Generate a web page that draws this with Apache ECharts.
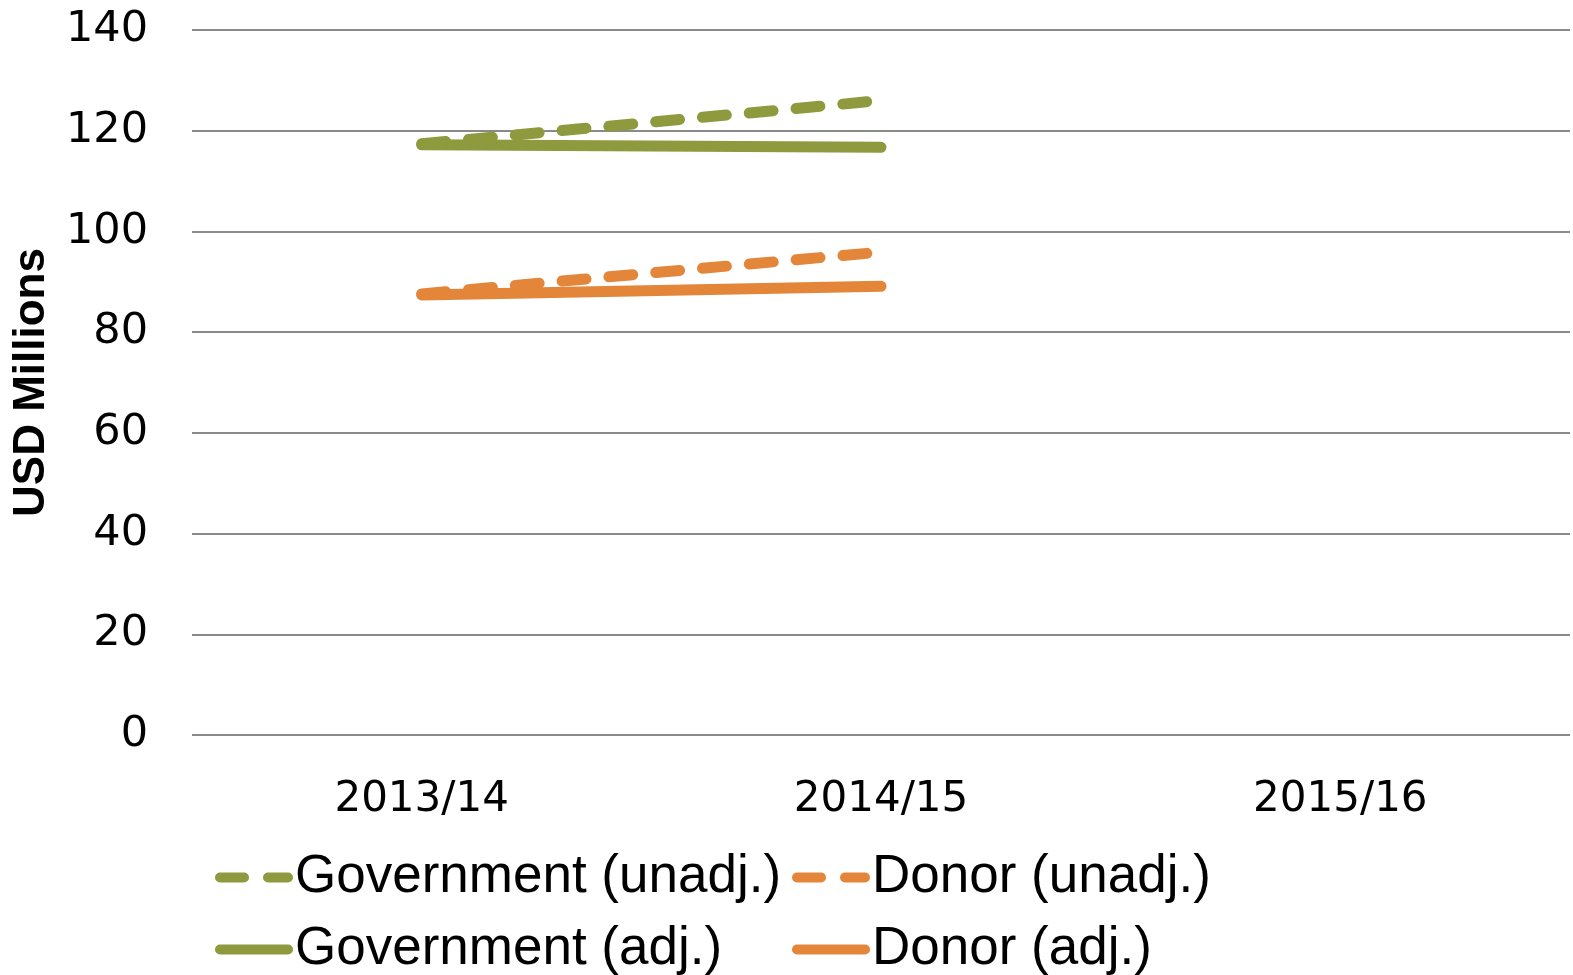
<!DOCTYPE html>
<html><head><meta charset="utf-8">
<script src="https://cdn.jsdelivr.net/npm/echarts@6/dist/echarts.min.js"></script>
<style>html,body{margin:0;padding:0;background:#fff}#c{width:1573px;height:975px}</style>
</head><body><div id="c"></div>
<script>
const categories = ['2013/14', '2014/15', '2015/16'];
const govUnadj = [117.4, 126.0, null];
const govAdj = [117.2, 116.7, null];
const donorUnadj = [87.6, 95.9, null];
const donorAdj = [87.4, 89.1, null];
const yTicks = {min: 0, max: 140, interval: 20};

const GREEN = '#8E9A3D', ORANGE = '#E3863A';
const dash = [24, 23];
const DASH_ICON = 'path://M5,0 L29,0 A5,5 0 0 1 29,10 L5,10 A5,5 0 0 1 5,0 Z M53,0 L73,0 A5,5 0 0 1 73,10 L53,10 A5,5 0 0 1 53,0 Z';
const SOLID_ICON = 'path://M5,0 L73,0 A5,5 0 0 1 73,10 L5,10 A5,5 0 0 1 5,0 Z';
function line(name, data, color, dashed) {
  return {
    name, type: 'line', data, symbol: 'none', connectNulls: false,
    lineStyle: {color, width: 11, type: dashed ? dash : 'solid', cap: 'round', join: 'round'},
    itemStyle: {color}, emphasis: {disabled: true}
  };
}
const legendFont = {fontFamily: 'Liberation Sans, Arial, sans-serif', fontSize: 53, color: '#000'};
function lg(name, dashed, left, top) {
  return {data: [{name, icon: dashed ? DASH_ICON : SOLID_ICON}], left, top, itemWidth: 78, itemHeight: 11, itemGap: 0,
    textStyle: Object.assign({padding: [0, 0, 0, -3]}, legendFont), selectedMode: false};
}
const chart = echarts.init(document.getElementById('c'));
chart.setOption({
  animation: false,
  grid: {left: 192, right: 3, top: 30, bottom: 240},
  legend: [
    lg('Government (unadj.)', true, 210, 846),
    lg('Donor (unadj.)', true, 787, 846),
    lg('Government (adj.)', false, 210, 918),
    lg('Donor (adj.)', false, 787, 918)
  ],
  xAxis: {
    type: 'category', data: categories, boundaryGap: true,
    axisLine: {show: false}, axisTick: {show: false},
    axisLabel: {margin: 44, fontFamily: 'DejaVu Sans', fontSize: 42, color: '#000'}
  },
  yAxis: {
    type: 'value', min: yTicks.min, max: yTicks.max, interval: yTicks.interval,
    name: 'USD Millions', nameLocation: 'middle', nameRotate: 90, nameGap: 138,
    nameTextStyle: {fontFamily: 'Liberation Sans, Arial, sans-serif', fontWeight: 'bold', fontSize: 44, color: '#000'},
    axisLine: {show: false}, axisTick: {show: false},
    axisLabel: {margin: 44, fontFamily: 'DejaVu Sans', fontSize: 43, color: '#000'},
    splitLine: {lineStyle: {color: '#8a8a8a', width: 2}}
  },
  series: [
    line('Government (unadj.)', govUnadj, GREEN, true),
    line('Donor (unadj.)', donorUnadj, ORANGE, true),
    line('Government (adj.)', govAdj, GREEN, false),
    line('Donor (adj.)', donorAdj, ORANGE, false)
  ]
});
</script></body></html>
